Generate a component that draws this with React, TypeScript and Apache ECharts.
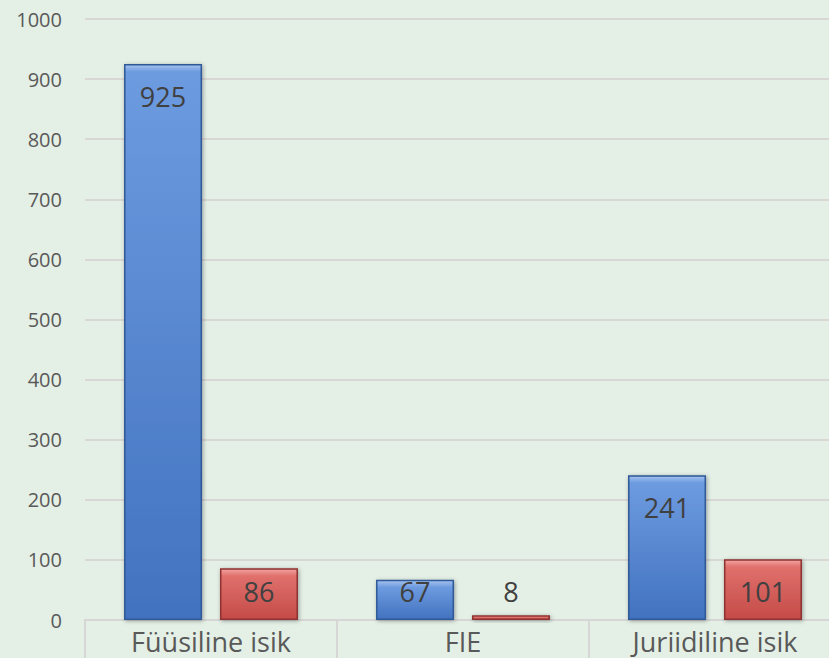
import React, { useEffect, useRef } from "react";
import * as echarts from "echarts";

const categories = ["Füüsiline isik", "FIE", "Juriidiline isik"];
const blueValues = [925, 67, 241];
const redValues = [86, 8, 101];
const yMin = 0;
const yMax = 1000;
const yInterval = 100;

const CHART_W = 850;
const GRID_LEFT = 85;
const GRID_TOP = 19;
const GRID_W = 756;
const GRID_H = 601;
const FONT = "'Open Sans', 'Liberation Sans', sans-serif";

function barGradient(v: number, pal: { bevel: string; top: string; bottom: string }) {
  const h = Math.max(1, (v * GRID_H) / yMax);
  const b = Math.min(0.45, 7 / h);
  return new echarts.graphic.LinearGradient(0, 0, 0, 1, [
    { offset: 0, color: pal.bevel },
    { offset: b, color: pal.top },
    { offset: 1, color: pal.bottom },
  ]);
}

function buildData(values: number[], pal: any, border: string) {
  return values.map((v) => {
    const h = (v * GRID_H) / yMax;
    const centerOffset = Math.min(32, h - 29);
    return {
      value: v,
      itemStyle: {
        color: barGradient(v, pal),
        borderColor: border,
        borderWidth: 1.5,
        shadowColor: "rgba(0,0,0,0.35)",
        shadowBlur: 4,
        shadowOffsetX: 1,
        shadowOffsetY: 1,
      },
      label: {
        show: true,
        position: "insideTop",
        distance: 0,
        offset: [0, centerOffset - 14],
        lineHeight: 28,
        fontSize: 27,
        color: "#404040",
        fontFamily: FONT,
      },
    };
  });
}

export default function App() {
  const ref = useRef<HTMLDivElement>(null);
  useEffect(() => {
    if (!ref.current) return;
    const chart = echarts.init(ref.current, undefined, { renderer: "svg" });
    chart.setOption({
      animation: false,
      backgroundColor: "#e4f0e6",
      grid: { left: GRID_LEFT, top: GRID_TOP, width: GRID_W, height: GRID_H, containLabel: false },
      xAxis: {
        type: "category",
        data: categories,
        axisLine: { show: true, lineStyle: { color: "#d6d6d6", width: 2 } },
        axisTick: { show: true, length: 40, lineStyle: { color: "#d6d6d6", width: 2 } },
        axisLabel: { fontSize: 27, lineHeight: 24, color: "#595959", margin: 9, fontFamily: FONT },
      },
      yAxis: {
        type: "value",
        min: yMin,
        max: yMax,
        interval: yInterval,
        axisLine: { show: false },
        axisTick: { show: false },
        splitLine: { lineStyle: { color: "#d9d6d6", width: 2 } },
        axisLabel: {
          fontSize: 20,
          color: "#595959",
          margin: 23,
          fontFamily: FONT,
          formatter: (v: number) => String(v),
        },
      },
      series: [
        {
          type: "bar",
          barWidth: 78,
          barGap: "23%",
          data: buildData(blueValues, { bevel: "#a6c3ee", top: "#6d9be0", bottom: "#4272bf" }, "#2e5a98"),
        },
        {
          type: "bar",
          barWidth: 78,
          data: buildData(redValues, { bevel: "#f3a5a2", top: "#e0706c", bottom: "#c44b47" }, "#8e3230"),
        },
      ],
    });
    return () => chart.dispose();
  }, []);
  return (
    <div
      style={{ position: "fixed", left: 0, top: 0, width: 829, height: 658, overflow: "hidden" }}
    >
      <div ref={ref} style={{ width: CHART_W, height: 658 }} />
    </div>
  );
}
